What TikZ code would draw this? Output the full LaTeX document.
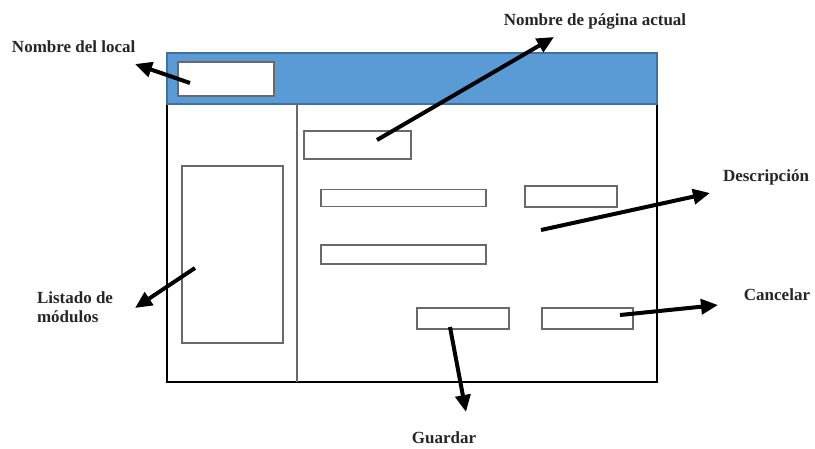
\documentclass[tikz,border=0pt]{standalone}
\usepackage{fontspec}
\setmainfont{Liberation Serif}
\usetikzlibrary{arrows.meta}

\definecolor{barblue}{RGB}{91,155,213}
\definecolor{barline}{RGB}{65,113,156}
\definecolor{boxgray}{RGB}{105,105,105}

\begin{document}
\begin{tikzpicture}[x=1pt, y=-1pt,
  every node/.style={inner sep=0pt, outer sep=0pt},
  field/.style={shape=rectangle, draw=boxgray, line width=1.5pt, fill=white},
  label/.style={font=\fontsize{17}{19}\selectfont\bfseries, text=black!85},
  pointer/.style={line width=4pt, -{Triangle[length=17pt, width=15pt]}},
]
\useasboundingbox (0,0) rectangle (815,448);

% window
\node[draw=black, line width=2.5pt, minimum width=490pt, minimum height=278pt] (frame) at (412,243) {};
\node[draw=barline, line width=1.5pt, fill=barblue, minimum width=490pt, minimum height=51pt] (header) at (412,78.5) {};
\draw[boxgray, line width=1.8pt] ([xshift=130pt]frame.north west) -- ([xshift=130pt]frame.south west);

% fields
\node[field, minimum width=96pt, minimum height=34pt] (localbox) at (226,79) {};
\node[field, minimum width=101pt, minimum height=177pt] (listbox) at (232.5,254.5) {};
\node[field, minimum width=107pt, minimum height=28pt] (pagebox) at (357.5,145) {};
\node[field, minimum width=165pt, minimum height=17pt] (field1) at (403.5,198) {};
\node[field, minimum width=92pt, minimum height=21pt] (descbox) at (571,196.5) {};
\node[field, minimum width=165pt, minimum height=19pt] (field2) at (403.5,254.5) {};
\node[field, minimum width=92pt, minimum height=21pt] (savebtn) at (463,318.5) {};
\node[field, minimum width=91pt, minimum height=21pt] (cancelbtn) at (587.5,318.5) {};

% labels
\node[label, anchor=west] (locallbl) at (12,47) {Nombre del local};
\node[label] (pagelbl) at (595,21) {Nombre de página actual};
\node[label] (desclbl) at (766,177) {Descripción};
\node[label] (cancellbl) at (777,295) {Cancelar};
\node[label] (savelbl) at (444,438) {Guardar};
\node[label, anchor=west, align=left] (listlbl) at (37,307) {Listado de\\módulos};

% arrow ends
\coordinate (localtail) at (190,83);   \coordinate (localtip) at (135,64);
\coordinate (pagetail) at (377,140);   \coordinate (pagetip) at (554,37);
\coordinate (desctail) at (541,230);   \coordinate (desctip) at (710,193);
\coordinate (canceltail) at (620,315); \coordinate (canceltip) at (718,305);
\coordinate (savetail) at (450,327);   \coordinate (savetip) at (466,412);
\coordinate (listtail) at (195,268);   \coordinate (listtip) at (135,308);

\begin{scope}[pointer]
  \draw (localtail) -- (localtip);
  \draw (pagetail) -- (pagetip);
  \draw (desctail) -- (desctip);
  \draw (canceltail) -- (canceltip);
  \draw (savetail) -- (savetip);
  \draw (listtail) -- (listtip);
\end{scope}

\end{tikzpicture}
\end{document}
